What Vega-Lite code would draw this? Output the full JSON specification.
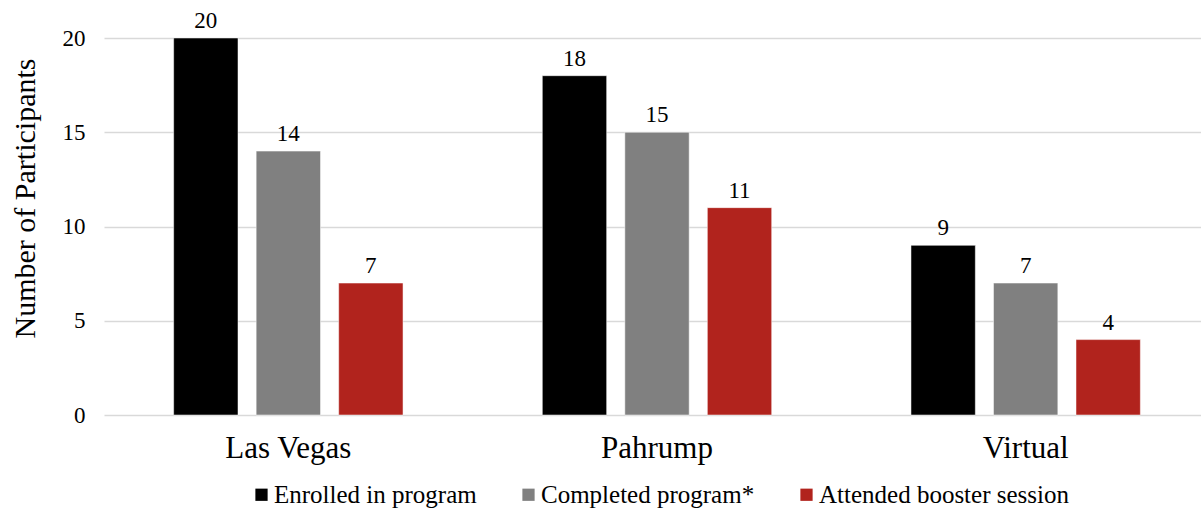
{
  "$schema": "https://vega.github.io/schema/vega-lite/v6.json",
  "autosize": {"type": "none"},
  "width": 1106,
  "height": 377,
  "padding": {"left": 104, "top": 38, "right": 0, "bottom": 97},
  "background": "white",
  "config": {
    "view": {"stroke": null},
    "font": "Liberation Serif"
  },
  "data": {
    "values": [
      {"site": "Las Vegas", "status": "Enrolled in program", "n": 20},
      {"site": "Las Vegas", "status": "Completed program*", "n": 14},
      {"site": "Las Vegas", "status": "Attended booster session", "n": 7},
      {"site": "Pahrump", "status": "Enrolled in program", "n": 18},
      {"site": "Pahrump", "status": "Completed program*", "n": 15},
      {"site": "Pahrump", "status": "Attended booster session", "n": 11},
      {"site": "Virtual", "status": "Enrolled in program", "n": 9},
      {"site": "Virtual", "status": "Completed program*", "n": 7},
      {"site": "Virtual", "status": "Attended booster session", "n": 4}
    ]
  },
  "encoding": {
    "x": {
      "field": "site", "type": "nominal", "sort": null,
      "scale": {"paddingInner": 0, "paddingOuter": 0},
      "axis": {"title": null, "labelAngle": 0, "domain": false, "ticks": false, "labelFontSize": 31, "labelColor": "black", "labelPadding": 18, "labelFont": "Liberation Serif"}
    },
    "xOffset": {
      "field": "status", "type": "nominal",
      "sort": ["Enrolled in program", "Completed program*", "Attended booster session"],
      "scale": {"paddingInner": 0.22, "paddingOuter": 0.844}
    },
    "y": {
      "field": "n", "type": "quantitative",
      "scale": {"domain": [0, 20]},
      "axis": {"title": "Number of Participants", "values": [0, 5, 10, 15, 20], "domain": false, "ticks": false, "gridColor": "#d9d9d9", "gridWidth": 1.5, "labelFontSize": 23, "labelColor": "black", "labelPadding": 19, "titleFontSize": 30, "titleFontWeight": "normal", "titleColor": "black", "titlePadding": 22, "titleY": 160, "labelFont": "Liberation Serif", "titleFont": "Liberation Serif"}
    }
  },
  "layer": [
    {
      "mark": {"type": "bar", "stroke": "white", "strokeWidth": 0.5},
      "encoding": {
        "color": {
          "field": "status", "type": "nominal",
          "sort": ["Enrolled in program", "Completed program*", "Attended booster session"],
          "scale": {"domain": ["Enrolled in program", "Completed program*", "Attended booster session"], "range": ["#000000", "#808080", "#B1231D"]},
          "legend": {
            "title": null, "orient": "none", "direction": "horizontal",
            "legendX": 145, "legendY": 444,
            "symbolType": "square", "symbolSize": 150, "symbolStrokeWidth": 0,
            "labelFontSize": 25, "labelColor": "black", "labelFont": "Liberation Serif", "labelLimit": 0,
            "columnPadding": 39, "symbolOffset": 0, "labelOffset": 0
          }
        }
      }
    },
    {
      "mark": {"type": "text", "dy": -17, "fontSize": 23, "color": "black", "font": "Liberation Serif"},
      "encoding": {"text": {"field": "n", "type": "quantitative"}}
    }
  ]
}
